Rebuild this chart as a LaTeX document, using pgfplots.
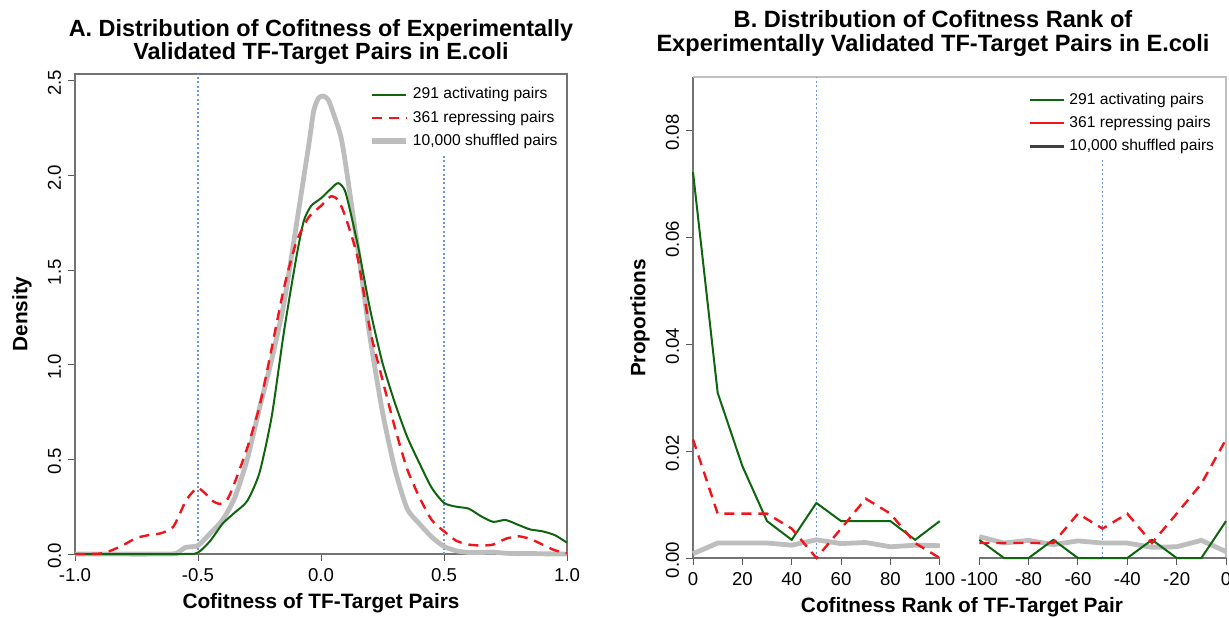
\documentclass[border=0pt]{standalone}
\usepackage{fontspec}
\setmainfont{Liberation Sans}
\usepackage{pgfplots}
\pgfplotsset{compat=1.18}

\definecolor{actgreen}{HTML}{0E650E}
\definecolor{repred}{HTML}{F2141B}
\definecolor{shufgray}{HTML}{BDBDBD}
\definecolor{refblue}{HTML}{6A97E0}

\pgfplotsset{
  rstyle/.style={
    scale only axis, clip=false,
    scaled ticks=false,
    tick align=outside, tick pos=left,
    major tick length=3.5pt,
    tick style={black!65, line width=0.5pt},
    tick label style={font=\fontsize{9.3}{11}\selectfont},
    yticklabel style={rotate=90, anchor=south, xshift=-1pt},
    legend cell align=left,
    legend style={draw=none, fill=white, font=\fontsize{7.8}{9.2}\selectfont,
      inner sep=1pt, row sep=0.4pt},
  }
}

\begin{document}
\begin{tikzpicture}
\useasboundingbox (0,0) rectangle (614.5pt,308.5pt);

% titles and axis labels (pixel positions of the reference, halved, y from the bottom)
\node[font=\bfseries\fontsize{11.7}{14}\selectfont, anchor=base] at (160.5pt,290pt) {A. Distribution of Cofitness of Experimentally};
\node[font=\bfseries\fontsize{11.7}{14}\selectfont, anchor=base] at (160.5pt,278.5pt) {Validated TF-Target Pairs in E.coli};
\node[font=\bfseries\fontsize{11.8}{14}\selectfont, anchor=base] at (466.5pt,294.5pt) {B. Distribution of Cofitness Rank of};
\node[font=\bfseries\fontsize{11.8}{14}\selectfont, anchor=base] at (466.5pt,282.5pt) {Experimentally Validated TF-Target Pairs in E.coli};
\node[font=\bfseries\fontsize{10.4}{12}\selectfont] at (160.5pt,7pt) {Cofitness of TF-Target Pairs};
\node[font=\bfseries\fontsize{10.4}{12}\selectfont] at (481pt,5pt) {Cofitness Rank of TF-Target Pair};
\node[font=\bfseries\fontsize{10.4}{12}\selectfont, rotate=90] at (11pt,151.5pt) {Density};
\node[font=\bfseries\fontsize{10.4}{12}\selectfont, rotate=90] at (320pt,149.5pt) {Proportions};

% ---------------- panel A ----------------
\begin{axis}[rstyle,
  at={(37.5pt,31.5pt)}, anchor=south west,
  width=246pt, height=240pt,
  xmin=-1, xmax=1, ymin=0, ymax=2.537,
  xtick={-1,-0.5,0,0.5,1}, xticklabels={-1.0,-0.5,0.0,0.5,1.0},
  ytick={0,0.5,1,1.5,2,2.5}, yticklabels={0.0,0.5,1.0,1.5,2.0,2.5},
  axis line style={black!55, line width=0.6pt},
  legend style={at={(0.594,0.985)}, anchor=north west},
]
\draw[refblue, line width=0.6pt, dash pattern=on 1pt off 1.2pt] (axis cs:-0.5,0) -- (axis cs:-0.5,2.537);
\draw[refblue, line width=0.6pt, dash pattern=on 1pt off 1.2pt] (axis cs:0.5,0) -- (axis cs:0.5,2.14);

% 10,000 shuffled pairs
\addplot[forget plot, shufgray, line width=2.4pt, smooth, tension=0.4] coordinates {
(-1,0)(-0.62,0)(-0.58,0.01)(-0.55,0.035)(-0.5,0.045)(-0.45,0.11)(-0.4,0.18)(-0.35,0.30)
(-0.3,0.50)(-0.25,0.77)(-0.2,1.03)(-0.15,1.33)(-0.1,1.74)(-0.05,2.16)(-0.03,2.34)
(-0.01,2.41)(0.01,2.42)(0.03,2.40)(0.05,2.33)(0.08,2.21)(0.1,2.06)(0.15,1.61)(0.2,1.14)
(0.25,0.75)(0.3,0.45)(0.35,0.24)(0.4,0.16)(0.45,0.09)(0.5,0.04)(0.55,0.017)(0.6,0.008)
(0.65,0.008)(0.7,0.01)(0.75,0.004)(0.8,0.002)(0.85,0.003)(0.9,0.001)(1,0)
};
% 291 activating pairs
\addplot[forget plot, actgreen, line width=1pt, smooth, tension=0.4] coordinates {
(-1,0)(-0.56,0)(-0.5,0.008)(-0.45,0.07)(-0.4,0.16)(-0.35,0.22)(-0.3,0.28)(-0.25,0.43)
(-0.2,0.73)(-0.15,1.18)(-0.1,1.57)(-0.07,1.76)(-0.04,1.84)(0,1.88)(0.04,1.93)(0.07,1.96)
(0.1,1.91)(0.15,1.63)(0.2,1.29)(0.25,1.01)(0.3,0.80)(0.35,0.62)(0.4,0.48)(0.45,0.35)
(0.5,0.27)(0.55,0.25)(0.6,0.24)(0.65,0.20)(0.7,0.17)(0.75,0.18)(0.8,0.155)(0.85,0.13)
(0.9,0.12)(0.95,0.10)(1,0.06)
};
% 361 repressing pairs
\addplot[forget plot, repred, line width=1.2pt, dash pattern=on 5pt off 3.5pt, smooth, tension=0.4] coordinates {
(-1,0)(-0.9,0.002)(-0.85,0.02)(-0.8,0.05)(-0.75,0.085)(-0.7,0.10)(-0.65,0.11)(-0.6,0.145)
(-0.55,0.28)(-0.52,0.33)(-0.5,0.35)(-0.47,0.32)(-0.44,0.28)(-0.41,0.265)(-0.38,0.29)
(-0.35,0.38)(-0.3,0.56)(-0.25,0.78)(-0.2,1.09)(-0.15,1.41)(-0.1,1.65)(-0.05,1.78)(0,1.84)
(0.04,1.89)(0.07,1.87)(0.1,1.78)(0.15,1.56)(0.2,1.18)(0.25,0.92)(0.3,0.67)(0.35,0.45)
(0.4,0.30)(0.45,0.18)(0.5,0.12)(0.55,0.07)(0.6,0.05)(0.65,0.045)(0.7,0.05)(0.75,0.08)
(0.8,0.094)(0.85,0.08)(0.9,0.05)(0.95,0.02)(1,0.004)
};
\addlegendimage{actgreen, line width=1pt}
\addlegendentry{291 activating pairs}
\addlegendimage{repred, line width=1.2pt, dash pattern=on 5pt off 3.5pt}
\addlegendentry{361 repressing pairs}
\addlegendimage{shufgray, line width=2.6pt}
\addlegendentry{10,000 shuffled pairs}
\end{axis}

% ---------------- panel B ----------------
% positions: 0..100 for ranks 0..100, 116..216 for ranks -100..0
\begin{axis}[rstyle,
  at={(346.5pt,29.5pt)}, anchor=south west,
  width=266.5pt, height=240.5pt,
  xmin=0, xmax=216, ymin=0, ymax=0.09,
  axis lines*=left,
  x axis line style={draw=none},
  y axis line style={black!55, line width=0.6pt},
  xtick={0,20,40,60,80,100,116,136,156,176,196,216},
  xticklabels={0,20,40,60,80,100,-100,-80,-60,-40,-20,0},
  ytick={0,0.02,0.04,0.06,0.08}, yticklabels={0.00,0.02,0.04,0.06,0.08},
  legend style={at={(0.625,0.98)}, anchor=north west},
]
\draw[black!25, line width=0.6pt] (rel axis cs:0,1) -- (rel axis cs:1,1) -- (rel axis cs:1,0);
\draw[black!55, line width=0.6pt] (axis cs:0,0) -- (axis cs:100,0);
\draw[black!55, line width=0.6pt] (axis cs:116,0) -- (axis cs:216,0);
\draw[refblue, line width=0.6pt, dash pattern=on 1pt off 1.2pt] (axis cs:50,0) -- (axis cs:50,0.09);
\draw[refblue, line width=0.6pt, dash pattern=on 1pt off 1.2pt] (axis cs:166,0) -- (axis cs:166,0.075);

% shuffled
\addplot[forget plot, shufgray, line width=2.4pt] coordinates {
(0,0.0008)(10,0.0028)(20,0.0028)(30,0.0028)(40,0.0024)(50,0.0034)(60,0.0027)(70,0.0029)(80,0.0021)(90,0.0024)(100,0.0023)
};
\addplot[forget plot, shufgray, line width=2.4pt] coordinates {
(116,0.0040)(126,0.0028)(136,0.0033)(146,0.0025)(156,0.0032)(166,0.0028)(176,0.0028)(186,0.0020)(196,0.0021)(206,0.0033)(216,0.0012)
};
% activating
\addplot[forget plot, actgreen, line width=1pt] coordinates {
(0,0.0722)(10,0.0309)(20,0.0172)(30,0.0069)(40,0.0034)(50,0.0103)(60,0.0069)(70,0.0069)(80,0.0069)(90,0.0034)(100,0.0069)
};
\addplot[forget plot, actgreen, line width=1pt] coordinates {
(116,0.0034)(126,0)(136,0)(146,0.0034)(156,0)(166,0)(176,0)(186,0.0034)(196,0)(206,0)(216,0.0069)
};
% repressing
\addplot[forget plot, repred, line width=1.2pt, dash pattern=on 5pt off 3.5pt] coordinates {
(0,0.0222)(10,0.0083)(20,0.0083)(30,0.0083)(40,0.0055)(50,0)(60,0.0055)(70,0.0111)(80,0.0083)(90,0.0028)(100,0)
};
\addplot[forget plot, repred, line width=1.2pt, dash pattern=on 5pt off 3.5pt] coordinates {
(116,0.0028)(126,0.0028)(136,0.0028)(146,0.0028)(156,0.0083)(166,0.0055)(176,0.0083)(186,0.0028)(196,0.0083)(206,0.0139)(216,0.0222)
};
\addlegendimage{actgreen, line width=0.8pt}
\addlegendentry{291 activating pairs}
\addlegendimage{repred, line width=0.9pt}
\addlegendentry{361 repressing pairs}
\addlegendimage{black!75, line width=1.4pt}
\addlegendentry{10,000 shuffled pairs}
\end{axis}
\end{tikzpicture}
\end{document}
